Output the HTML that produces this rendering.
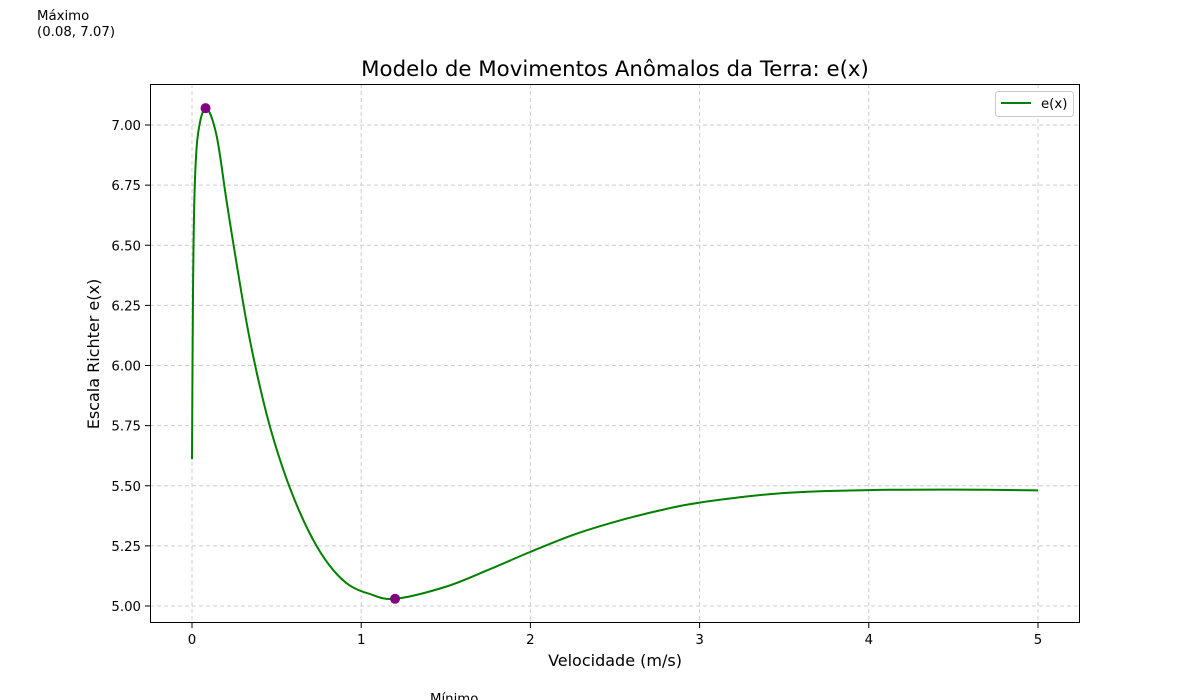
<!DOCTYPE html>
<html><head><meta charset="utf-8"><style>
body{margin:0;background:#fff;}
svg{display:block;font-family:"DejaVu Sans","Liberation Sans",sans-serif;}
</style></head><body>
<svg id="chart" width="1200" height="700">
<text x="37" y="20" font-size="13.3">Máximo</text>
<text x="37" y="36" font-size="13.3">(0.08, 7.07)</text>
<text x="430" y="703" font-size="13.3">Mínimo</text>
<text x="615" y="76" font-size="21.3" text-anchor="middle">Modelo de Movimentos Anômalos da Terra: e(x)</text>
<g id="grid"></g>
<g id="ticks"></g>
<path id="line" fill="none" stroke="#008000" stroke-width="2"/>
<g id="marks"></g>
<rect x="150.5" y="84.5" width="929" height="538" fill="none" stroke="#000" stroke-width="1"/>
<text x="615" y="666" font-size="16" text-anchor="middle">Velocidade (m/s)</text>
<text transform="translate(99,354) rotate(-90)" font-size="16" text-anchor="middle">Escala Richter e(x)</text>
<g>
<rect x="995.5" y="91.5" width="78" height="25" rx="3" fill="#fff" stroke="#ccc"/>
<line x1="1001" y1="103" x2="1031" y2="103" stroke="#008000" stroke-width="2"/>
<text x="1041" y="108" font-size="13.3">e(x)</text>
</g>
</svg>
<script>
const xs=[0,0.006,0.016,0.035,0.081,0.144,0.203,0.262,0.341,0.44,0.538,0.637,0.736,0.834,0.933,1.05,1.2,1.5,1.75,2.0,2.25,2.5,2.75,3.0,3.5,4.0,4.5,5.0];
const ys=[5.61,6.31,6.74,6.96,7.07,6.96,6.69,6.43,6.11,5.80,5.57,5.39,5.25,5.15,5.085,5.05,5.03,5.08,5.15,5.225,5.295,5.35,5.395,5.43,5.47,5.482,5.484,5.481];
const xTicks=[0,1,2,3,4,5];
const yTicks=[5.00,5.25,5.50,5.75,6.00,6.25,6.50,6.75,7.00];
const extremes=[[0.08,7.07],[1.2,5.03]];
const X=v=>192+v*169.2, Y=v=>606-(v-5)*240.5;
const NS="http://www.w3.org/2000/svg";
const grid=document.getElementById('grid'),ticks=document.getElementById('ticks'),marks=document.getElementById('marks');
function mk(tag,attrs,parent){const e=document.createElementNS(NS,tag);for(const k in attrs)e.setAttribute(k,attrs[k]);parent.appendChild(e);return e;}
xTicks.forEach(t=>{
 const g=mk('line',{x1:X(t),x2:X(t),y1:84,y2:623,stroke:'#ccc','stroke-dasharray':'4,3'},grid);
 
 
 mk('line',{x1:X(t),x2:X(t),y1:623,y2:628,stroke:'#000'},ticks);
 const tx=mk('text',{x:X(t),y:644,'font-size':13.3,'text-anchor':'middle'},ticks);tx.textContent=t;
 
 
});
yTicks.forEach(t=>{
 const g=mk('line',{x1:150,x2:1080,y1:Y(t),y2:Y(t),stroke:'#ccc','stroke-dasharray':'4,3'},grid);
 
 
 mk('line',{x1:145,x2:150,y1:Y(t),y2:Y(t),stroke:'#000'},ticks);
 const tx=mk('text',{x:141,y:Y(t)+5,'font-size':13.3,'text-anchor':'end'},ticks);tx.textContent=t.toFixed(2);
 
 
});
const P=xs.map((x,i)=>[X(x),Y(ys[i])]);
let d='M'+P[0][0]+','+P[0][1];
for(let i=0;i<P.length-1;i++){
 const p0=P[Math.max(0,i-1)],p1=P[i],p2=P[i+1],p3=P[Math.min(P.length-1,i+2)];
 const c1=[p1[0]+(p2[0]-p0[0])/6,p1[1]+(p2[1]-p0[1])/6];
 const c2=[p2[0]-(p3[0]-p1[0])/6,p2[1]-(p3[1]-p1[1])/6];
 d+=` C${c1[0]},${c1[1]} ${c2[0]},${c2[1]} ${p2[0]},${p2[1]}`;
}
document.getElementById('line').setAttribute('d',d);
extremes.forEach(e=>{
 const c=mk('circle',{cx:X(e[0]),cy:Y(e[1]),r:5,fill:'#800080'},marks);
 
 
});
</script>
</body></html>
